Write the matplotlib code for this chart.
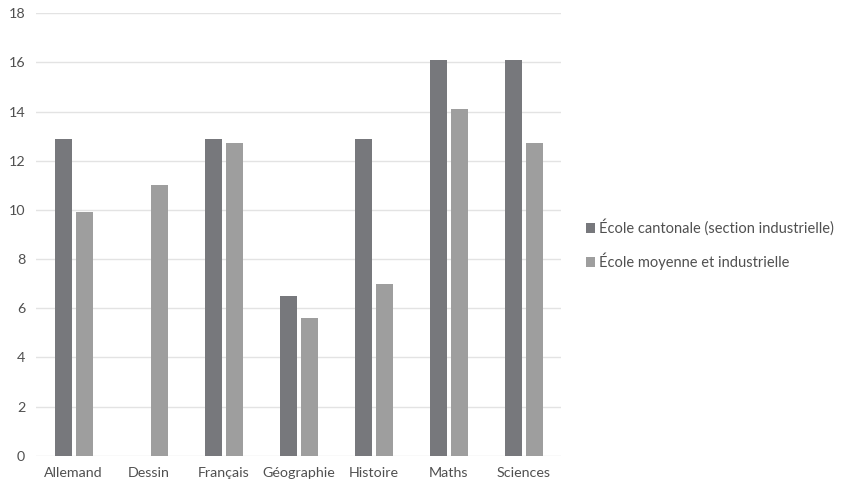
import numpy as np
import matplotlib.pyplot as plt

matieres = ['Allemand', 'Dessin', 'Français', 'Géographie', 'Histoire', 'Maths', 'Sciences']
cantonale = [12.9, np.nan, 12.9, 6.5, 12.9, 16.1, 16.1]
moyenne = [9.9, 11.0, 12.7, 5.6, 7.0, 14.1, 12.7]
series_names = ['École cantonale (section industrielle)', 'École moyenne et industrielle']

plt.rcParams['font.family'] = ['Lato', 'DejaVu Sans']
text_col = '#505050'

fig = plt.figure(figsize=(8.43, 4.86), dpi=100)
ax = fig.add_axes([0.043, 0.062, 0.623, 0.911])

x = np.arange(len(matieres))
w = 0.22
ax.bar(x - 0.14, cantonale, width=w, color='#77787c', label=series_names[0], zorder=3)
ax.bar(x + 0.14, moyenne, width=w, color='#9e9e9e', label=series_names[1], zorder=3)

ax.set_xlim(-0.5, len(matieres) - 0.5)
ax.set_ylim(0, 18)
ax.set_yticks(range(0, 19, 2))
ax.set_xticks(x)
ax.set_xticklabels(matieres)
ax.grid(axis='y', color='#e3e3e3', linewidth=1, zorder=0)
ax.tick_params(length=0, labelsize=10.3, colors=text_col, pad=8)
for s in ax.spines.values():
    s.set_visible(False)

fig.legend(loc='center left', bbox_to_anchor=(0.679, 0.496), frameon=False,
           fontsize=10.5, handlelength=0.65, handleheight=0.65, handletextpad=0.3,
           labelspacing=1.15, labelcolor=text_col)

fig.savefig('out.png', dpi=100)
